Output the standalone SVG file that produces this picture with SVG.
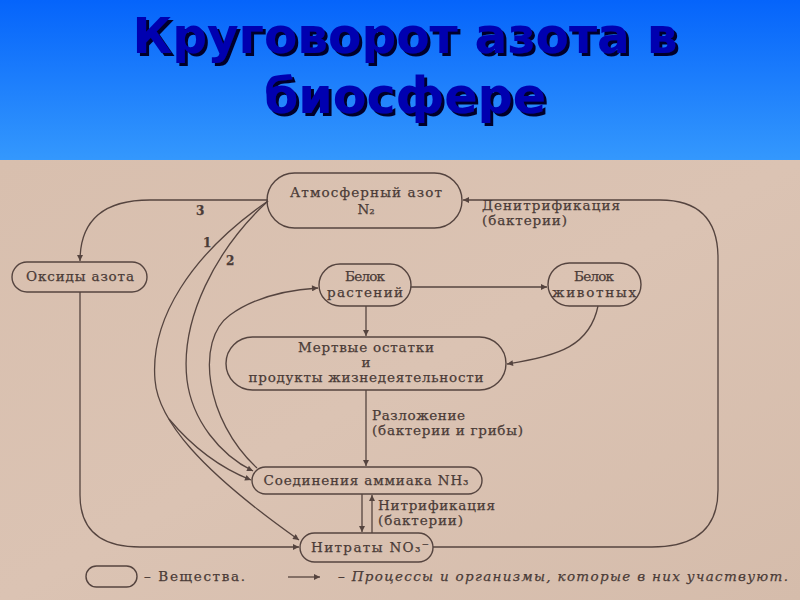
<svg xmlns="http://www.w3.org/2000/svg" width="800" height="600" viewBox="0 0 800 600">
<defs>
<linearGradient id="sky" x1="0" y1="0" x2="0" y2="1">
<stop offset="0" stop-color="#0564fb"/>
<stop offset="1" stop-color="#3498fd"/>
</linearGradient>
<linearGradient id="paper" x1="0" y1="0" x2="1" y2="1">
<stop offset="0" stop-color="#d8bfae"/>
<stop offset="0.5" stop-color="#dbc3b3"/>
<stop offset="1" stop-color="#d5bcab"/>
</linearGradient>
<filter id="shadow" x="-5%" y="-20%" width="110%" height="140%">
<feDropShadow dx="3" dy="3" stdDeviation="0.6" flood-color="#00002a" flood-opacity="1"/>
</filter>
<marker id="ah" viewBox="0 0 10 10" refX="10" refY="5" markerWidth="8" markerHeight="6" orient="auto" markerUnits="userSpaceOnUse">
<path d="M0,0 L10,5 L0,10 z" fill="#55443f"/>
</marker>
<style>
.title{font-family:"Liberation Sans Narrow","DejaVu Sans Condensed","Liberation Sans",sans-serif;font-weight:bold;font-size:50px;text-anchor:middle;fill:#0000b0;filter:url(#shadow)}
.node rect{fill:none;stroke:#55443f;stroke-width:1.4}
.t,.l,.n{font-family:"DejaVu Serif","Liberation Serif",serif;font-size:13.5px;fill:#4a3b37;stroke:#4a3b37;stroke-width:0.25}
.t{text-anchor:middle}
.n{font-weight:bold;font-size:12px}
.c path{fill:none;stroke:#55443f;stroke-width:1.3}
.arr{marker-end:url(#ah)}
</style>
</defs>

<rect x="0" y="0" width="800" height="160" fill="url(#sky)"/>
<rect x="0" y="160" width="800" height="440" fill="url(#paper)"/>

<g id="title">
<text class="title" x="405" y="53" textLength="545" lengthAdjust="spacingAndGlyphs">Круговорот азота в</text>
<text class="title" x="405" y="113" textLength="282" lengthAdjust="spacingAndGlyphs">биосфере</text>
</g>

<g id="connectors" class="c">
<path class="arr" d="M268,200 H150 Q80,200 80,261"/>
<path class="arr" d="M80,292 V495 Q80,547 140,547 H299"/>
<path class="arr" d="M433,547 H652 Q718,547 718,490 V258 Q718,200 660,200 H463"/>
<path class="arr" d="M268,201 C190,255 150,320 155,380 C158,420 200,470 299,540"/>
<path class="arr" d="M169,419 Q205,462 251,480"/>
<path class="arr" d="M268,201 C215,250 180,320 187,380 C192,420 220,455 253,471"/>
<path class="arr" d="M257,468 C205,420 195,340 230,315 C255,297 285,290 318,288"/>
<path class="arr" d="M411,287 H547"/>
<path class="arr" d="M366,306 V336"/>
<path class="arr" d="M598,306 C590,345 560,356 507,364"/>
<path class="arr" d="M366,390 V466"/>
<path class="arr" d="M362,494 V532"/>
<path class="arr" d="M372,533 V495"/>
<path class="arr" d="M288,577 H320"/>
</g>

<g id="connector-labels">
<text class="n" x="196" y="215">3</text>
<text class="n" x="203" y="247">1</text>
<text class="n" x="226" y="265">2</text>
<text class="l" x="482" y="210" textLength="138" lengthAdjust="spacing">Денитрификация</text>
<text class="l" x="482" y="225" textLength="85" lengthAdjust="spacing">(бактерии)</text>
<text class="l" x="372" y="420" textLength="93" lengthAdjust="spacing">Разложение</text>
<text class="l" x="372" y="435" textLength="151" lengthAdjust="spacing">(бактерии и грибы)</text>
<text class="l" x="378" y="510" textLength="117" lengthAdjust="spacing">Нитрификация</text>
<text class="l" x="378" y="525" textLength="85" lengthAdjust="spacing">(бактерии)</text>
</g>

<g id="n-atm" class="node">
<rect x="267" y="173" width="195" height="55" rx="27.5"/>
<text class="t" x="366" y="197" textLength="152" lengthAdjust="spacing">Атмосферный азот</text>
<text class="t" x="366" y="214">N₂</text>
</g>

<g id="n-oxides" class="node">
<rect x="12" y="262" width="135" height="30" rx="15"/>
<text class="t" x="80" y="281" textLength="108" lengthAdjust="spacing">Оксиды азота</text>
</g>

<g id="n-plant" class="node">
<rect x="319" y="264" width="92" height="42" rx="21"/>
<text class="t" x="365" y="281" textLength="40" lengthAdjust="spacing">Белок</text>
<text class="t" x="365" y="297" textLength="76" lengthAdjust="spacing">растений</text>
</g>

<g id="n-animal" class="node">
<rect x="548" y="263" width="93" height="43" rx="21.5"/>
<text class="t" x="594" y="281" textLength="40" lengthAdjust="spacing">Белок</text>
<text class="t" x="594" y="297" textLength="84" lengthAdjust="spacing">животных</text>
</g>

<g id="n-dead" class="node">
<rect x="226" y="337" width="280" height="53" rx="26.5"/>
<text class="t" x="366" y="352" textLength="136" lengthAdjust="spacing">Мертвые остатки</text>
<text class="t" x="366" y="367">и</text>
<text class="t" x="366" y="382" textLength="235" lengthAdjust="spacing">продукты жизнедеятельности</text>
</g>

<g id="n-ammonia" class="node">
<rect x="252" y="467" width="230" height="27" rx="13.5"/>
<text class="t" x="366" y="485" textLength="205" lengthAdjust="spacing">Соединения аммиака NH₃</text>
</g>

<g id="n-nitrates" class="node">
<rect x="300" y="533" width="133" height="29" rx="14.5"/>
<text class="t" x="370" y="552" textLength="118" lengthAdjust="spacing">Нитраты NO₃⁻</text>
</g>

<g id="legend">
<g class="node"><rect x="86" y="566" width="51" height="21" rx="10.5"/></g>
<text class="l" x="144" y="581" textLength="101" lengthAdjust="spacing">– Вещества.</text>
<text class="l" x="338" y="581" font-style="italic" textLength="450" lengthAdjust="spacing">– Процессы и организмы, которые в них участвуют.</text>
</g>
</svg>
